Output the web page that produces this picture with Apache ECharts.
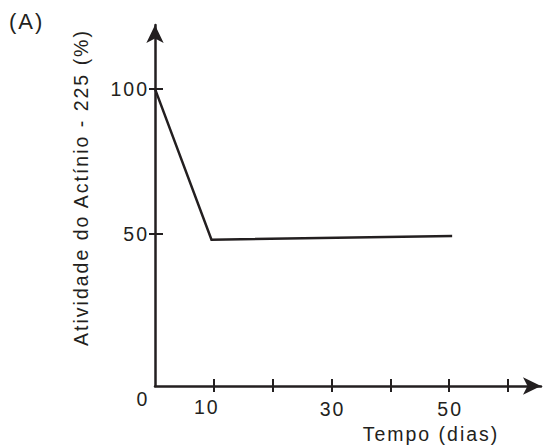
<!DOCTYPE html>
<html>
<head>
<meta charset="utf-8">
<script src="https://cdn.jsdelivr.net/npm/echarts@6/dist/echarts.min.js"></script>
<style>
  html, body { margin: 0; padding: 0; background: #fff; }
  #c { width: 550px; height: 447px; }
  #c text { letter-spacing: 2px; }
</style>
</head>
<body>
<div id="c"></div>
<script>
// Data
const timeDays = [0, 9.6, 50.5];
const activityPct = [100, 48, 49.3];
const xTickValues = [10, 20, 30, 40, 50, 60];
const xLabelValues = [0, 10, 30, 50];
const yTickValues = [50, 100];
const panelLabel = '(A)';
const xName = 'Tempo (dias)';
const yName = 'Atividade do Actínio - 225 (%)';

const INK = '#231f20';
const FONT = '"Liberation Sans", Arial, sans-serif';
const FS = 19.5;

const chart = echarts.init(document.getElementById('c'), null, { renderer: 'svg' });

const seriesData = timeDays.map((t, i) => [t, activityPct[i]]);

const baseX = {
  type: 'value', min: 0, max: 65.6, interval: 10, position: 'bottom',
  splitLine: { show: false }
};
const baseY = {
  type: 'value', min: -2.4, max: 122, position: 'left',
  splitLine: { show: false }
};

chart.setOption({
  animation: false,
  backgroundColor: '#fff',
  grid: { left: 155, right: 9, top: 25, bottom: 61, outerBoundsMode: 'none' },
  graphic: [{
    type: 'text', left: 9, top: 10,
    style: { text: panelLabel, font: '22px ' + FONT, fill: INK }
  }],
  xAxis: [
    Object.assign({}, baseX, {
      name: xName,
      nameLocation: 'middle',
      nameGap: 35,
      nameTextStyle: { color: INK, fontSize: FS, fontFamily: FONT, padding: [0, 0, 0, 166] },
      axisLine: { show: true, onZero: false, symbol: ['none', 'arrow'], symbolSize: [13, 18],
                  lineStyle: { color: INK, width: 2.5 } },
      axisTick: { show: true, inside: false, length: 6, customValues: xTickValues,
                  lineStyle: { color: INK, width: 2 } },
      axisLabel: {
        show: true, margin: 3, customValues: xLabelValues,
        color: INK, fontSize: FS, fontFamily: FONT,
        formatter: function (v) {
          if (v === 0) return '{z|0}';
          if (v === 10) return '{t|10}';
          return '{n|' + v + '}';
        },
        rich: {
          z: { fontSize: FS, fontFamily: FONT, color: INK, padding: [0, 24, 0, 0] },
          t: { fontSize: FS, fontFamily: FONT, color: INK, padding: [8, 14, 0, 0] },
          n: { fontSize: FS, fontFamily: FONT, color: INK, padding: [10, 0, 0, 2] }
        }
      }
    }),
    Object.assign({}, baseX, {
      axisLine: { show: false, onZero: false },
      axisTick: { show: true, inside: true, length: 7, customValues: xTickValues,
                  lineStyle: { color: INK, width: 2 } },
      axisLabel: { show: false }
    })
  ],
  yAxis: [
    Object.assign({}, baseY, {
      name: yName,
      nameLocation: 'middle',
      nameGap: 64,
      nameTextStyle: { color: INK, fontSize: FS, fontFamily: FONT, padding: [0, 0, 0, 36] },
      axisLine: { show: true, onZero: false, symbol: ['none', 'arrow'], symbolSize: [13, 18],
                  lineStyle: { color: INK, width: 2.5 } },
      axisTick: { show: true, inside: false, length: 6, customValues: yTickValues,
                  lineStyle: { color: INK, width: 2 } },
      axisLabel: { show: true, margin: 6, customValues: yTickValues,
                   color: INK, fontSize: FS, fontFamily: FONT }
    }),
    Object.assign({}, baseY, {
      axisLine: { show: false, onZero: false },
      axisTick: { show: true, inside: true, length: 8, customValues: yTickValues,
                  lineStyle: { color: INK, width: 2 } },
      axisLabel: { show: false }
    })
  ],
  series: [{
    type: 'line',
    xAxisIndex: 0, yAxisIndex: 0,
    data: seriesData,
    symbol: 'none',
    lineStyle: { color: INK, width: 2.5, join: 'miter' }
  }]
});
</script>
</body>
</html>
